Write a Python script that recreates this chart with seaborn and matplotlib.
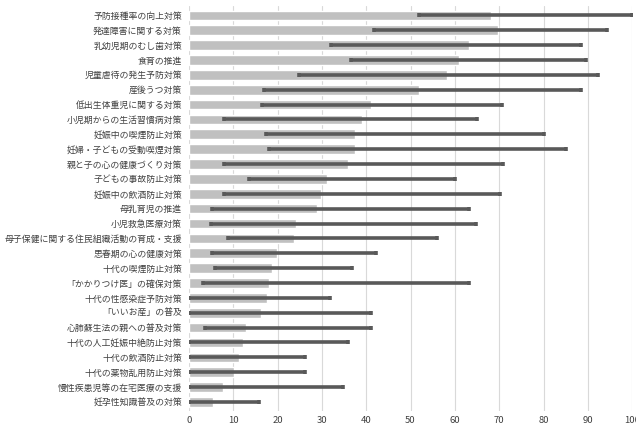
import numpy as np
import pandas as pd
import matplotlib
matplotlib.use("Agg")
import matplotlib.pyplot as plt
import seaborn as sns

# 項目
labels = [
    "予防接種率の向上対策", "発達障害に関する対策", "乳幼児期のむし歯対策", "食育の推進",
    "児童虐待の発生予防対策", "産後うつ対策", "低出生体重児に関する対策",
    "小児期からの生活習慣病対策", "妊娠中の喫煙防止対策", "妊婦・子どもの受動喫煙対策",
    "親と子の心の健康づくり対策", "子どもの事故防止対策", "妊娠中の飲酒防止対策",
    "母乳育児の推進", "小児救急医療対策", "母子保健に関する住民組織活動の育成・支援",
    "思春期の心の健康対策", "十代の喫煙防止対策", "「かかりつけ医」の確保対策",
    "十代の性感染症予防対策", "「いいお産」の普及", "心肺蘇生法の親への普及対策",
    "十代の人工妊娠中絶防止対策", "十代の飲酒防止対策", "十代の薬物乱用防止対策",
    "慢性疾患児等の在宅医療の支援", "妊孕性知識普及の対策",
]
# 棒の値
values = [68.2, 69.8, 63.2, 61.0, 58.3, 51.9, 41.1, 39.1, 37.4, 37.4, 35.9, 31.2, 29.8,
          28.9, 24.1, 23.6, 19.8, 18.8, 18.0, 17.7, 16.2, 12.9, 12.3, 11.4, 10.1, 7.8, 5.4]
# 誤差範囲 (下限・上限)
lower = [51.8, 41.7, 32.1, 36.6, 24.8, 16.9, 16.5, 7.9, 17.5, 18.1, 7.9, 13.6, 7.9,
         5.2, 5.0, 8.9, 5.2, 5.9, 3.1, 0.0, 0.0, 3.7, 0.0, 0.0, 0.0, 0.0, 0.0]
upper = [99.9, 94.3, 88.5, 89.6, 92.3, 88.5, 70.6, 65.0, 80.2, 85.1, 70.8, 60.1, 70.1,
         63.2, 64.8, 55.9, 42.1, 36.8, 63.2, 31.9, 41.1, 41.1, 35.9, 26.2, 26.2, 34.8, 15.9]

df = pd.DataFrame({"label": labels, "value": values})

sns.set_style("white")
plt.rcParams["font.family"] = ["Noto Sans CJK JP", "DejaVu Sans"]

fig, ax = plt.subplots(figsize=(6.36, 4.28), dpi=100)
sns.barplot(data=df, x="value", y="label", color="#c0c0c0", saturation=1,
            width=0.65, ax=ax, zorder=2)

vals = np.array(values)
xerr = [vals - np.array(lower), np.array(upper) - vals]
ax.errorbar(vals, np.arange(len(labels)), xerr=xerr, fmt="none",
            ecolor="#595959", elinewidth=2.6, capsize=1.5, capthick=2.6, zorder=3)

ax.set_xlim(0, 100)
ax.set_xticks(range(0, 101, 10))
ax.set_ylim(len(labels) - 0.4, -0.6)
ax.grid(axis="x", color="#d9d9d9", linewidth=0.8, zorder=0)
ax.set_axisbelow(True)
for s in ax.spines.values():
    s.set_visible(False)
ax.set_xlabel("")
ax.set_ylabel("")
ax.tick_params(axis="y", length=0, labelsize=6.4, colors="#404040", pad=5)
ax.tick_params(axis="x", length=0, labelsize=6.8, colors="#404040", pad=4)

plt.subplots_adjust(left=0.297, right=0.994, top=0.985, bottom=0.04)
fig.savefig("out.png", dpi=100)
